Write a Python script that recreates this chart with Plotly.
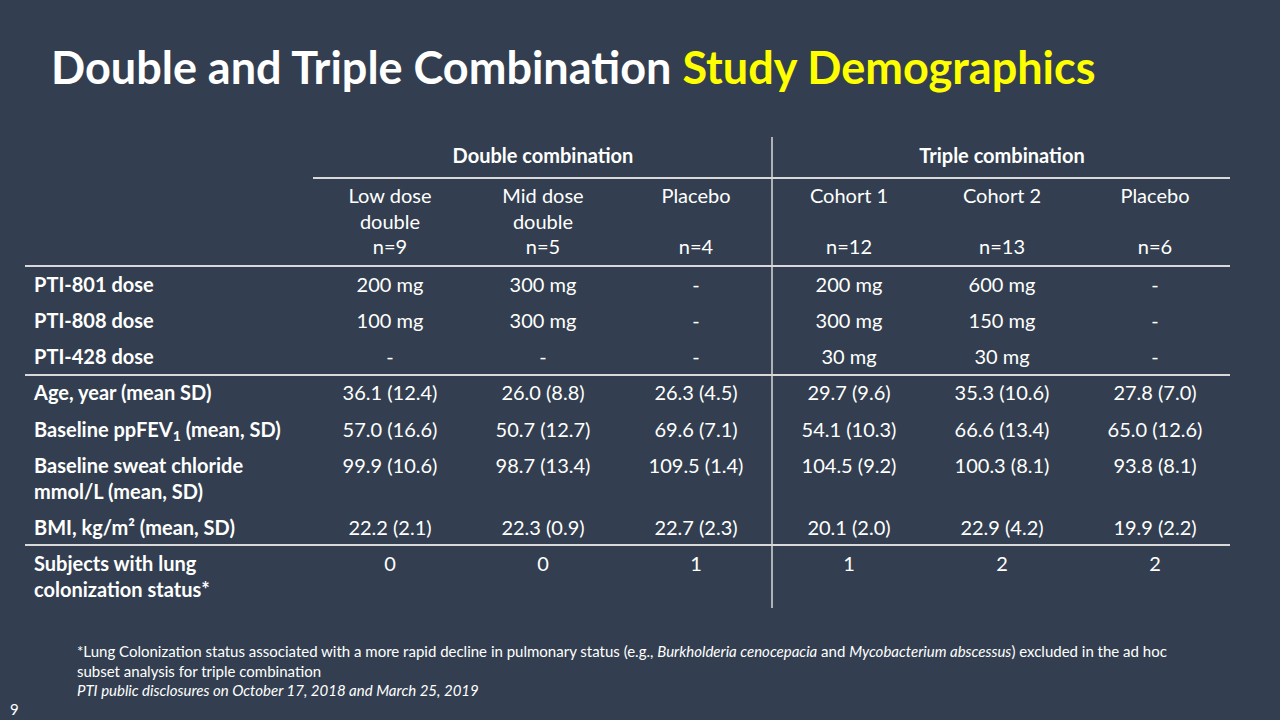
import plotly.graph_objects as go

# ---------------- data ----------------
title_white = "Double and Triple Combination "
title_yellow = "Study Demographics"

groups = ["Double combination", "Triple combination"]
group_span = [(0, 2), (3, 5)]  # column index ranges of each group

arm_names = ["Low dose<br>double", "Mid dose<br>double", "Placebo", "Cohort 1", "Cohort 2", "Placebo"]
arm_n = ["n=9", "n=5", "n=4", "n=12", "n=13", "n=6"]

row_labels = [
    "PTI-801 dose",
    "PTI-808 dose",
    "PTI-428 dose",
    "Age, year (mean SD)",
    "Baseline ppFEV<sub>1</sub> (mean, SD)",
    "Baseline sweat chloride<br>mmol/L (mean, SD)",
    "BMI, kg/m² (mean, SD)",
    "Subjects with lung<br>colonization status*",
]

pti801_dose = ["200 mg", "300 mg", "-", "200 mg", "600 mg", "-"]
pti808_dose = ["100 mg", "300 mg", "-", "300 mg", "150 mg", "-"]
pti428_dose = ["-", "-", "-", "30 mg", "30 mg", "-"]
age_year = ["36.1 (12.4)", "26.0 (8.8)", "26.3 (4.5)", "29.7 (9.6)", "35.3 (10.6)", "27.8 (7.0)"]
ppfev1 = ["57.0 (16.6)", "50.7 (12.7)", "69.6 (7.1)", "54.1 (10.3)", "66.6 (13.4)", "65.0 (12.6)"]
sweat_chloride = ["99.9 (10.6)", "98.7 (13.4)", "109.5 (1.4)", "104.5 (9.2)", "100.3 (8.1)", "93.8 (8.1)"]
bmi = ["22.2 (2.1)", "22.3 (0.9)", "22.7 (2.3)", "20.1 (2.0)", "22.9 (4.2)", "19.9 (2.2)"]
lung_colonization = ["0", "0", "1", "1", "2", "2"]

table_rows = [pti801_dose, pti808_dose, pti428_dose, age_year, ppfev1,
              sweat_chloride, bmi, lung_colonization]

footnote = ("*Lung Colonization status associated with a more rapid decline in pulmonary status (e.g., "
            "<i>Burkholderia cenocepacia</i> and <i>Mycobacterium abscessus</i>) excluded in the ad hoc<br>"
            "subset analysis for triple combination<br>"
            "<i>PTI public disclosures on October 17, 2018 and March 25, 2019</i>")
page_number = "9"

# ---------------- style / layout ----------------
BG = "#333F50"
FG = "#FFFFFF"
LINE = "#D9D9D9"
YEL = "#FFFF00"
FONT = "Lato"
FS = 20
LH = 25.5  # line pitch

col_x0, col_dx = 390, 153
label_x = 34
row_top = [287, 323, 359, 395, 432, 468, 530, 566]
head_top = 198
n_y = 249
group_y = 158


def col_x(i):
    return col_x0 + col_dx * i


def center_y(top, text):
    n = text.count("<br>") + 1
    return top + (n - 1) * LH / 2


fig = go.Figure()

# group headers
fig.add_trace(go.Scatter(
    x=[(col_x(a) + col_x(b)) / 2 for a, b in group_span],
    y=[group_y] * len(groups),
    text=[f"<b>{g}</b>" for g in groups],
    mode="text", textposition="middle center",
    textfont=dict(family=FONT, size=FS, color=FG),
    hoverinfo="skip", showlegend=False))

# arm names
fig.add_trace(go.Scatter(
    x=[col_x(i) for i in range(len(arm_names))],
    y=[center_y(head_top, t) for t in arm_names],
    text=arm_names,
    mode="text", textposition="middle center",
    textfont=dict(family=FONT, size=FS, color=FG),
    hoverinfo="skip", showlegend=False))

# arm n
fig.add_trace(go.Scatter(
    x=[col_x(i) for i in range(len(arm_n))],
    y=[n_y] * len(arm_n),
    text=arm_n,
    mode="text", textposition="middle center",
    textfont=dict(family=FONT, size=FS, color=FG),
    hoverinfo="skip", showlegend=False))

# row labels
fig.add_trace(go.Scatter(
    x=[label_x] * len(row_labels),
    y=[center_y(t, s) for t, s in zip(row_top, row_labels)],
    text=[f"<b>{s}</b>" for s in row_labels],
    mode="text", textposition="middle right",
    textfont=dict(family=FONT, size=FS, color=FG),
    hoverinfo="skip", showlegend=False))

# body cells, one trace per column
for j in range(len(arm_n)):
    fig.add_trace(go.Scatter(
        x=[col_x(j)] * len(table_rows),
        y=row_top,
        text=[r[j] for r in table_rows],
        mode="text", textposition="middle center",
        textfont=dict(family=FONT, size=FS, color=FG),
        hoverinfo="skip", showlegend=False))

# rules
shapes = []
def hline(y, x0, x1):
    shapes.append(dict(type="line", xref="x", yref="y", x0=x0, x1=x1, y0=y, y1=y,
                       line=dict(color=LINE, width=2)))

hline(178, 313, 1230)
hline(266, 25, 1230)
hline(375, 25, 1230)
hline(545, 25, 1230)
shapes.append(dict(type="line", xref="x", yref="y", x0=772, x1=772, y0=137, y1=608,
                   line=dict(color=LINE, width=1.5)))

annotations = [
    dict(x=49, y=67, xref="x", yref="y", xanchor="left", yanchor="middle", showarrow=False,
         text=f"<b>{title_white}<span style='color:{YEL}'>{title_yellow}</span></b>",
         font=dict(family=FONT, size=45, color=FG)),
    dict(x=75, y=640, xref="x", yref="y", xanchor="left", yanchor="top", showarrow=False,
         align="left", text=footnote,
         font=dict(family=FONT, size=15, color=FG)),
    dict(x=8, y=709, xref="x", yref="y", xanchor="left", yanchor="middle", showarrow=False,
         text=page_number, font=dict(family=FONT, size=15, color=FG)),
]

fig.update_layout(
    width=1280, height=720,
    margin=dict(l=0, r=0, t=0, b=0),
    paper_bgcolor=BG, plot_bgcolor=BG,
    xaxis=dict(range=[0, 1280], visible=False, fixedrange=True),
    yaxis=dict(range=[720, 0], visible=False, fixedrange=True),
    shapes=shapes, annotations=annotations,
)

fig.write_html("out.html", config={"displayModeBar": False},
               post_script="document.body.style.margin='0';document.body.style.overflow='hidden';")
